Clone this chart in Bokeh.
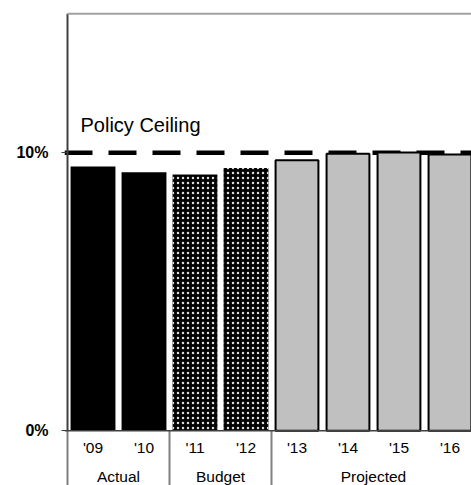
import numpy as np
from bokeh.plotting import figure
from bokeh.models import Range1d, FixedTicker, PrintfTickFormatter, Span
from bokeh.embed import file_html
from bokeh.resources import INLINE
from bokeh.core.properties import value

# ---- data ----
years = ["'09", "'10", "'11", "'12", "'13", "'14", "'15", "'16"]
ratio = [9.51, 9.30, 9.22, 9.45, 9.73, 9.97, 10.01, 9.94]
groups = ["Actual", "Budget", "Projected"]
group_sizes = [2, 2, 4]
policy_ceiling = 10.0
y_ticks = [0, 10]
y_max = 15.0
ceiling_label = "Policy Ceiling"

FONT = "Liberation Sans"
idx = np.arange(len(years))
bounds = np.concatenate([[0], np.cumsum(group_sizes)])  # group edges in index units

p = figure(width=471, height=485, output_backend="svg", toolbar_location=None,
           x_axis_location=None,
           x_range=Range1d(-0.559, 7.422), y_range=Range1d(-1.966, 15.478),
           min_border_left=64, min_border_right=0, min_border_top=0, min_border_bottom=0)
p.outline_line_color = None
p.xgrid.visible = False
p.ygrid.visible = False
p.background_fill_color = "white"
p.border_fill_color = "white"

# policy ceiling dashed line, behind the bars
ceil = Span(location=policy_ceiling, dimension="width", line_color="black",
            line_width=4.5, line_dash="28 16", line_dash_offset=0, level="underlay")
p.add_layout(ceil)

# bars
sl = [slice(bounds[i], bounds[i + 1]) for i in range(len(groups))]
x_a, v_a = idx[sl[0]], ratio[sl[0]]
x_b, v_b = idx[sl[1]], ratio[sl[1]]
x_c, v_c = idx[sl[2]], ratio[sl[2]]
p.vbar(x=x_a, top=v_a, bottom=0, width=0.88, fill_color="black", line_color=None)
p.vbar(x=x_b, top=v_b, bottom=0, width=0.88, fill_color="black", line_color=None,
       hatch_pattern="dot", hatch_color="#dcdcdc", hatch_scale=5, hatch_weight=1)
p.vbar(x=x_c, top=v_c, bottom=0, width=0.84, fill_color="#c0c0c0",
       line_color="black", line_width=2)

# axis line at zero
p.add_layout(Span(location=0, dimension="width", line_color="#404040", line_width=1.5))

x_hi = p.x_range.end
y_lo = p.y_range.start
edges = bounds - 0.5
# frame borders
p.segment(x0=[edges[0]], y0=[0], x1=[edges[0]], y1=[y_max], line_color="#404040", line_width=2)
p.segment(x0=[edges[0]], y0=[y_max], x1=[x_hi], y1=[y_max], line_color="#a0a0a0", line_width=2)
# group separators below the axis
sep_x = list(edges[:-1])
p.segment(x0=sep_x, y0=[y_lo] * len(sep_x), x1=sep_x, y1=[0] * len(sep_x),
          line_color="#808080", line_width=2)

# category labels
p.text(x=idx, y=[-0.60] * len(years), text=years, text_align="center",
       text_baseline="alphabetic", text_font=value(FONT), text_font_size="15.5px",
       text_color="black")
centers = [(bounds[i] + bounds[i + 1] - 1) / 2 for i in range(len(groups))]
p.text(x=centers, y=[-1.65] * len(groups), text=groups, text_align="center",
       text_baseline="alphabetic", text_font=value(FONT), text_font_size="15.5px",
       text_color="black")

# policy ceiling label
p.text(x=[-0.245], y=[11.0], text=[ceiling_label], text_align="left",
       text_baseline="alphabetic", text_font=value(FONT), text_font_size="20px",
       text_color="black")

# y axis
ya = p.yaxis[0]
ya.ticker = FixedTicker(ticks=y_ticks)
ya.formatter = PrintfTickFormatter(format="%d%%")
ya.axis_line_color = None
ya.minor_tick_line_color = None
ya.major_tick_line_color = "#404040"
ya.major_tick_in = 3
ya.major_tick_out = 3
ya.major_label_standoff = 13
ya.major_label_text_font = FONT
ya.major_label_text_font_size = "16px"
ya.major_label_text_font_style = "bold"
ya.major_label_text_color = "black"

open("out.html", "w").write(file_html(p, INLINE))
